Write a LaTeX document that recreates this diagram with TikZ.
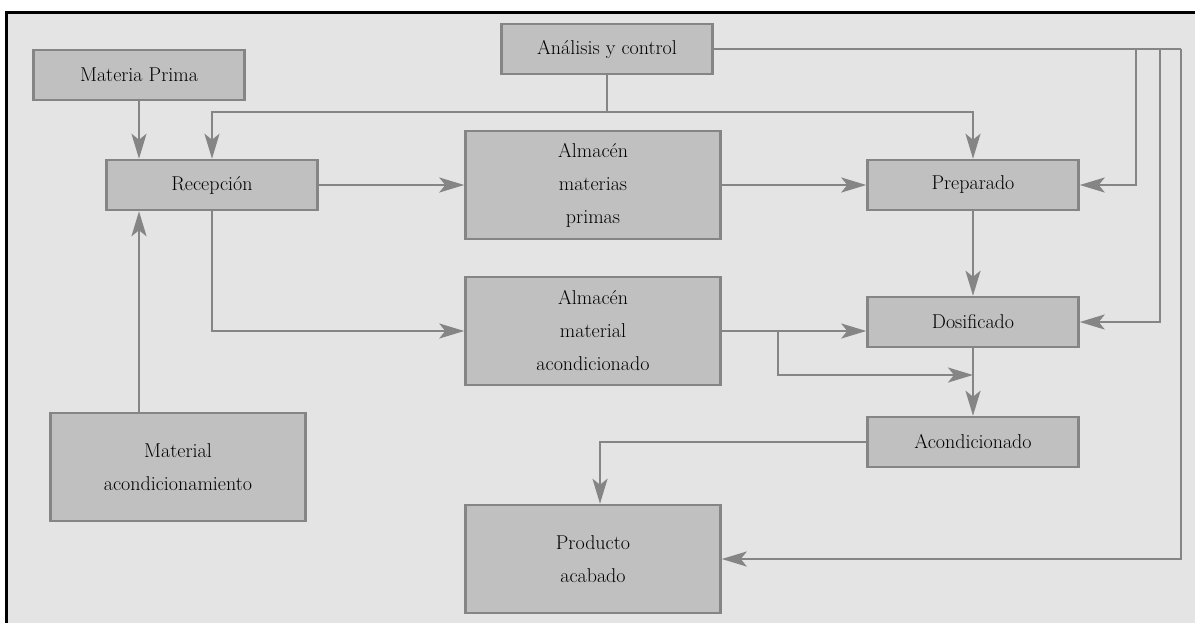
\documentclass[tikz,border=0pt]{standalone}
\usetikzlibrary{arrows.meta,positioning}
\definecolor{bg}{HTML}{E4E4E4}
\definecolor{boxfill}{HTML}{C0C0C0}
\definecolor{lines}{HTML}{858585}

\begin{document}
\begin{tikzpicture}[x=1pt,y=-1pt,on grid,
  box/.style={draw=lines,fill=boxfill,line width=2.5pt,minimum width=211pt,minimum height=50pt,inner sep=0pt,align=center,font=\fontsize{20}{33}\selectfont},
  bigbox/.style={box,minimum width=255pt,minimum height=108pt},
  link/.style={draw=lines,line width=2.5pt},
  >={Stealth[length=25pt,width=15pt,inset=6pt]}]
   \useasboundingbox (0,0) rectangle (1195,622);
   \clip (0,0) rectangle (1195,622);
   \draw[line width=3pt,fill=bg] (6,12) rectangle (1220,650);

   \node[box] (ana) at (607,49) {Análisis y control};
   \node[box] (mp) at (139,75) {Materia Prima};
   \node[box] (rec) at (212,185) {Recepción};
   \node[bigbox] (amp) at (593,185) {Almacén\\materias\\primas};
   \node[box] (prep) at (973,185) {Preparado};
   \node[bigbox] (ama) [below=146pt of amp] {Almacén\\material\\acondicionado};
   \node[box] (dos) [below=137pt of prep] {Dosificado};
   \node[box] (acon) [below=120pt of dos] {Acondicionado};
   \node[bigbox] (matac) at (178,467) {Material\\acondicionamiento};
   \node[bigbox] (prod) [below=374pt of amp] {Producto\\acabado};

   \coordinate (bus) at (0,112);
   \coordinate (r1) at (1136,0);
   \coordinate (r2) at (1160,0);
   \coordinate (r3) at (1181,0);
   \coordinate (split) at (778,375);
   \coordinate (drop) at (600,0);

   \draw[link,->] (rec.east) -- (amp.west);
   \draw[link,->] (amp.east) -- (prep.west);
   \draw[link,->] (prep.south) -- (dos.north);
   \draw[link,->] (dos.south) -- (acon.north);
   \draw[link,->] (mp.south) -- (mp.south |- rec.north);
   \draw[link,->] (matac.north -| mp.south) -- (mp.south |- rec.south);
   \draw[link,->] (ana.south) -- (ana.south |- bus) -| (rec.north);
   \draw[link,->] (ana.south |- bus) -| (prep.north);
   \draw[link,->] (rec.south) |- (ama.west);
   \draw[link,->] (ama.east) -- (ama.east -| dos.west);
   \draw[link,->] (ama.east -| split) -- (split) -- (split -| dos.south);
   \draw[link,->] (acon.west) -| (drop |- prod.north);
   \draw[link] (ana.east) -- (ana.east -| r3);
   \draw[link,->] (ana.east -| r1) |- (prep.east);
   \draw[link,->] (ana.east -| r2) |- (dos.east);
   \draw[link,->] (ana.east -| r3) |- (prod.east);
\end{tikzpicture}
\end{document}
